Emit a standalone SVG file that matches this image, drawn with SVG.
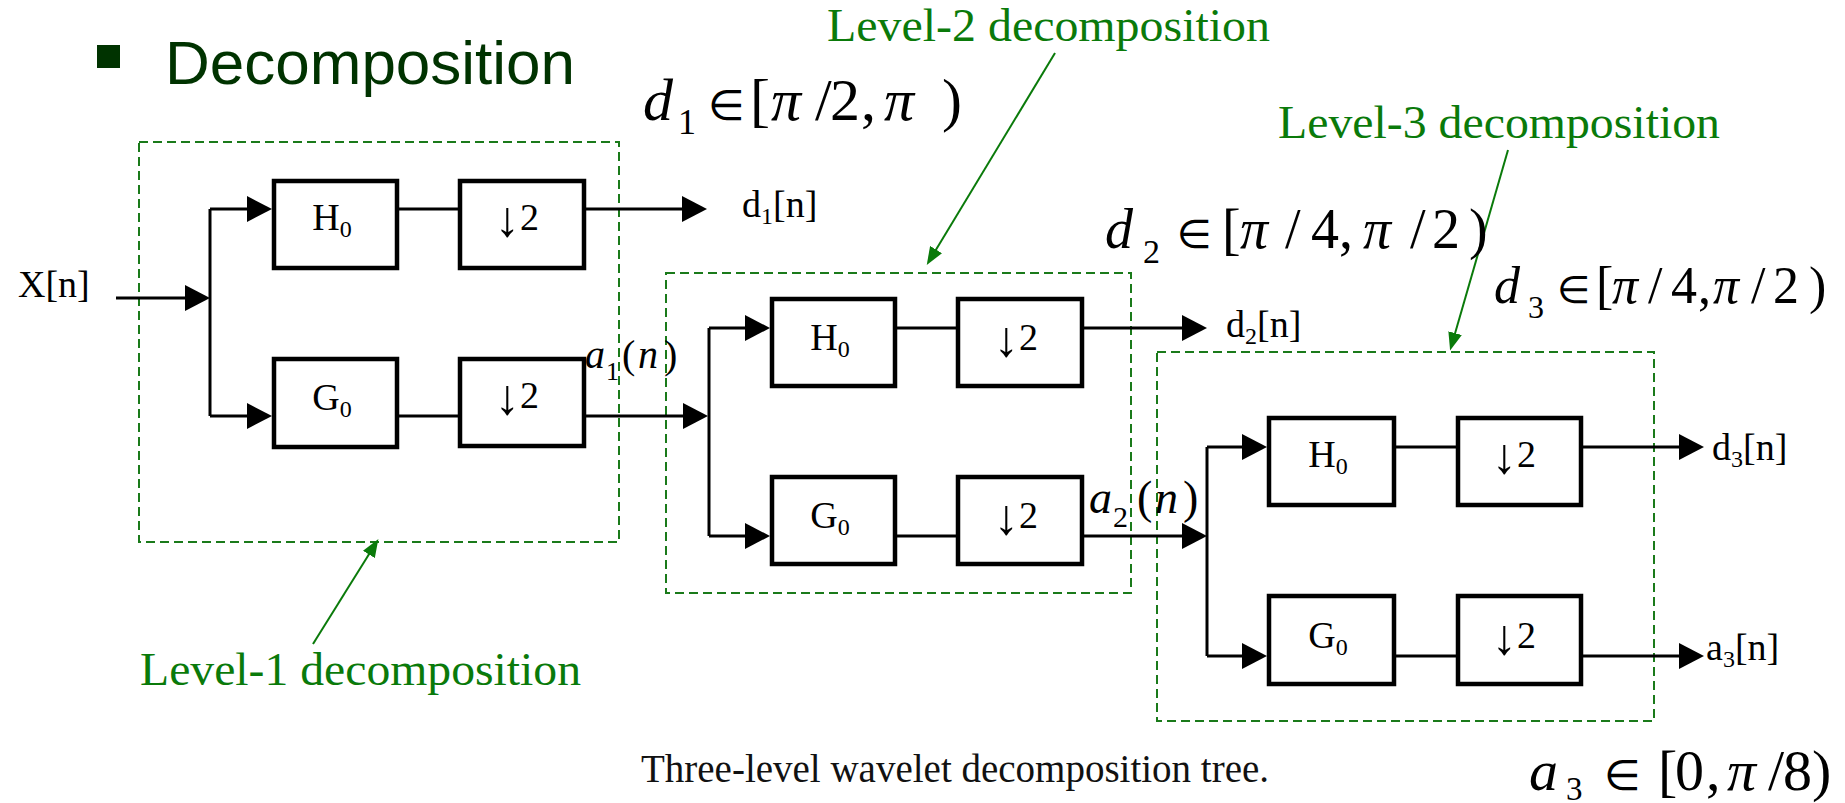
<svg xmlns="http://www.w3.org/2000/svg" width="1845" height="803" viewBox="0 0 1845 803">
<style>
  .box{fill:#fff;stroke:#000;stroke-width:4.5}
  .lbl{font-family:"Liberation Serif","Times New Roman",serif;font-size:38px;fill:#000}
  .sub{font-size:24px}
  .arr{font-size:50px}
  .ln{stroke:#000;stroke-width:3;fill:none}
  .lvl{fill:none;stroke:#1a7a1a;stroke-width:2;stroke-dasharray:9 5}
  .gtxt{font-family:"Liberation Serif","Times New Roman",serif;font-size:47px;fill:#0a7a0a}
  .gln{stroke:#0a7a0a;stroke-width:2;fill:none}
  .m{font-family:"Liberation Serif","Times New Roman",serif;fill:#000}
  .i{font-style:italic}
  .el{font-family:"DejaVu Sans","Liberation Serif",sans-serif;font-style:normal}
  .cap{font-family:"Liberation Serif","Times New Roman",serif;font-size:39px;fill:#111}
  .head{font-family:"Liberation Sans",Arial,sans-serif;font-size:62px;fill:#003300}
</style>
<defs>
  <marker id="ah" viewBox="0 0 25 26" refX="5" refY="13" markerWidth="25" markerHeight="26" markerUnits="userSpaceOnUse" orient="auto">
    <path d="M0,0 L25,13 L0,26 Z" fill="#000"/>
  </marker>
  <marker id="gh" viewBox="0 0 18 14" refX="4" refY="7" markerWidth="18" markerHeight="14" markerUnits="userSpaceOnUse" orient="auto">
    <path d="M0,0 L18,7 L0,14 Z" fill="#0a7a0a"/>
  </marker>
</defs>
<rect width="1845" height="803" fill="#fff"/>

<g id="heading">
  <rect x="97" y="45" width="23" height="23" fill="#003300"/>
  <text class="head" x="165" y="84">Decomposition</text>
</g>

<g id="level1-box"><rect class="lvl" x="139" y="142" width="480" height="400"/></g>
<g id="level2-box"><rect class="lvl" x="666" y="273" width="465" height="320"/></g>
<g id="level3-box"><rect class="lvl" x="1157" y="352" width="497" height="369"/></g>

<g id="connectors">
  <!-- level 1 -->
  <path class="ln" d="M116,298 H190" marker-end="url(#ah)"/>
  <path class="ln" d="M210,209 V416"/>
  <path class="ln" d="M210,209 H252" marker-end="url(#ah)"/>
  <path class="ln" d="M210,416 H252" marker-end="url(#ah)"/>
  <path class="ln" d="M399,209 H458"/>
  <path class="ln" d="M399,416 H458"/>
  <path class="ln" d="M586,209 H687" marker-end="url(#ah)"/>
  <path class="ln" d="M586,416 H688" marker-end="url(#ah)"/>
  <!-- level 2 -->
  <path class="ln" d="M709,328 V536"/>
  <path class="ln" d="M709,328 H750" marker-end="url(#ah)"/>
  <path class="ln" d="M709,536 H750" marker-end="url(#ah)"/>
  <path class="ln" d="M897,328 H956"/>
  <path class="ln" d="M897,536 H956"/>
  <path class="ln" d="M1084,328 H1187" marker-end="url(#ah)"/>
  <path class="ln" d="M1084,536 H1187" marker-end="url(#ah)"/>
  <!-- level 3 -->
  <path class="ln" d="M1207,447 V656"/>
  <path class="ln" d="M1207,447 H1247" marker-end="url(#ah)"/>
  <path class="ln" d="M1207,656 H1247" marker-end="url(#ah)"/>
  <path class="ln" d="M1396,447 H1456"/>
  <path class="ln" d="M1396,656 H1456"/>
  <path class="ln" d="M1583,447 H1684" marker-end="url(#ah)"/>
  <path class="ln" d="M1583,656 H1684" marker-end="url(#ah)"/>
  <!-- green annotation arrows -->
  <path class="gln" d="M313,644 L371,551" marker-end="url(#gh)"/>
  <path class="gln" d="M1055,53 L934,253" marker-end="url(#gh)"/>
  <path class="gln" d="M1508,150 L1454,337" marker-end="url(#gh)"/>
</g>

<!-- level 1 nodes -->
<g id="l1-H0"><rect class="box" x="274" y="181" width="123" height="87"/><text class="lbl" x="332" y="230" text-anchor="middle">H<tspan class="sub" dy="7">0</tspan></text></g>
<g id="l1-down-top"><rect class="box" x="460" y="181" width="124" height="87"/><text class="lbl" x="517" y="230" text-anchor="middle"><tspan class="arr" dy="6">↓</tspan><tspan dy="-6">2</tspan></text></g>
<g id="l1-G0"><rect class="box" x="274" y="359" width="123" height="88"/><text class="lbl" x="332" y="410" text-anchor="middle">G<tspan class="sub" dy="7">0</tspan></text></g>
<g id="l1-down-bot"><rect class="box" x="460" y="359" width="124" height="87"/><text class="lbl" x="517" y="408" text-anchor="middle"><tspan class="arr" dy="6">↓</tspan><tspan dy="-6">2</tspan></text></g>

<!-- level 2 nodes -->
<g id="l2-H0"><rect class="box" x="772" y="299" width="123" height="87"/><text class="lbl" x="830" y="350" text-anchor="middle">H<tspan class="sub" dy="7">0</tspan></text></g>
<g id="l2-down-top"><rect class="box" x="958" y="299" width="124" height="87"/><text class="lbl" x="1016" y="350" text-anchor="middle"><tspan class="arr" dy="6">↓</tspan><tspan dy="-6">2</tspan></text></g>
<g id="l2-G0"><rect class="box" x="772" y="477" width="123" height="87"/><text class="lbl" x="830" y="528" text-anchor="middle">G<tspan class="sub" dy="7">0</tspan></text></g>
<g id="l2-down-bot"><rect class="box" x="958" y="477" width="124" height="87"/><text class="lbl" x="1016" y="528" text-anchor="middle"><tspan class="arr" dy="6">↓</tspan><tspan dy="-6">2</tspan></text></g>

<!-- level 3 nodes -->
<g id="l3-H0"><rect class="box" x="1269" y="418" width="125" height="87"/><text class="lbl" x="1328" y="467" text-anchor="middle">H<tspan class="sub" dy="7">0</tspan></text></g>
<g id="l3-down-top"><rect class="box" x="1458" y="418" width="123" height="87"/><text class="lbl" x="1514" y="467" text-anchor="middle"><tspan class="arr" dy="6">↓</tspan><tspan dy="-6">2</tspan></text></g>
<g id="l3-G0"><rect class="box" x="1269" y="596" width="125" height="88"/><text class="lbl" x="1328" y="648" text-anchor="middle">G<tspan class="sub" dy="7">0</tspan></text></g>
<g id="l3-down-bot"><rect class="box" x="1458" y="596" width="123" height="88"/><text class="lbl" x="1514" y="648" text-anchor="middle"><tspan class="arr" dy="6">↓</tspan><tspan dy="-6">2</tspan></text></g>

<!-- signal labels -->
<g id="sig-x"><text class="lbl" x="18" y="297">X[n]</text></g>
<g id="sig-d1"><text class="lbl" x="742" y="217">d<tspan class="sub" dy="7">1</tspan><tspan dy="-7">[n]</tspan></text></g>
<g id="sig-d2"><text class="lbl" x="1226" y="337">d<tspan class="sub" dy="7">2</tspan><tspan dy="-7">[n]</tspan></text></g>
<g id="sig-d3"><text class="lbl" x="1712" y="460">d<tspan class="sub" dy="7">3</tspan><tspan dy="-7">[n]</tspan></text></g>
<g id="sig-a3"><text class="lbl" x="1706" y="660">a<tspan class="sub" dy="7">3</tspan><tspan dy="-7">[n]</tspan></text></g>

<g id="sig-a1n"><text class="m" font-size="40" y="368"><tspan x="585" class="i">a</tspan><tspan x="606" y="380" font-size="26">1</tspan><tspan x="622" y="368">(</tspan><tspan x="638" class="i">n</tspan><tspan x="664">)</tspan></text></g>
<g id="sig-a2n"><text class="m" font-size="46" y="513"><tspan x="1089" class="i">a</tspan><tspan x="1113" y="527" font-size="30">2</tspan><tspan x="1137" y="513">(</tspan><tspan x="1155" class="i">n</tspan><tspan x="1183">)</tspan></text></g>

<!-- band formulas -->
<g id="f-d1"><text class="m" font-size="60" y="120"><tspan x="643" class="i">d</tspan><tspan x="678" y="134" font-size="36">1</tspan><tspan x="708" y="120" class="el" font-size="42">∈</tspan><tspan x="750">[</tspan><tspan x="771" class="i">π</tspan><tspan x="815">/</tspan><tspan x="830">2</tspan><tspan x="861">,</tspan><tspan x="884" class="i">π</tspan><tspan x="942">)</tspan></text></g>
<g id="f-d2"><text class="m" font-size="56" y="248"><tspan x="1105" class="i">d</tspan><tspan x="1143" y="263" font-size="34">2</tspan><tspan x="1177" y="248" class="el" font-size="40">∈</tspan><tspan x="1222">[</tspan><tspan x="1240" class="i">π</tspan><tspan x="1285">/</tspan><tspan x="1311">4</tspan><tspan x="1339">,</tspan><tspan x="1363" class="i">π</tspan><tspan x="1410">/</tspan><tspan x="1432">2</tspan><tspan x="1469">)</tspan></text></g>
<g id="f-d3"><text class="m" font-size="52" y="303"><tspan x="1494" class="i">d</tspan><tspan x="1528" y="318" font-size="32">3</tspan><tspan x="1557" y="303" class="el" font-size="38">∈</tspan><tspan x="1596">[</tspan><tspan x="1612" class="i">π</tspan><tspan x="1648">/</tspan><tspan x="1671">4</tspan><tspan x="1698">,</tspan><tspan x="1713" class="i">π</tspan><tspan x="1751">/</tspan><tspan x="1773">2</tspan><tspan x="1809">)</tspan></text></g>
<g id="f-a3"><text class="m" font-size="58" y="790"><tspan x="1529" class="i">a</tspan><tspan x="1566" y="800" font-size="33">3</tspan><tspan x="1604" y="790" class="el" font-size="42">∈</tspan><tspan x="1658">[</tspan><tspan x="1675">0</tspan><tspan x="1706">,</tspan><tspan x="1727" class="i">π</tspan><tspan x="1768">/</tspan><tspan x="1783">8</tspan><tspan x="1812">)</tspan></text></g>

<!-- level annotations -->
<g id="note-l1"><text class="gtxt" x="140" y="685" textLength="441" lengthAdjust="spacingAndGlyphs">Level-1 decomposition</text></g>
<g id="note-l2"><text class="gtxt" x="827" y="41" textLength="443" lengthAdjust="spacingAndGlyphs">Level-2 decomposition</text></g>
<g id="note-l3"><text class="gtxt" x="1278" y="138" textLength="442" lengthAdjust="spacingAndGlyphs">Level-3 decomposition</text></g>

<g id="caption"><text class="cap" x="641" y="782">Three-level wavelet decomposition tree.</text></g>
</svg>
